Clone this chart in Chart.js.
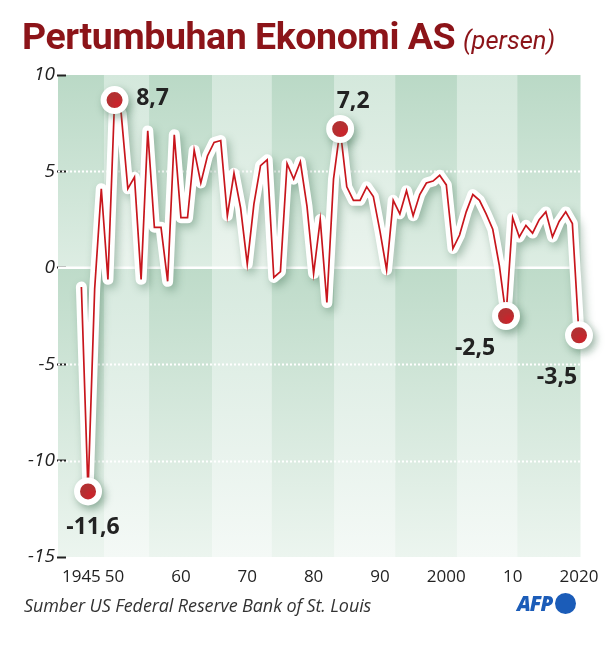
<!DOCTYPE html>
<html>
<head>
<meta charset="utf-8">
<script src="https://cdn.jsdelivr.net/npm/chart.js@4.4.1/dist/chart.umd.min.js"></script>
<style>
  html, body { margin: 0; padding: 0; background: #fff; }
  #wrap { position: relative; width: 607px; height: 656px; overflow: hidden; }
  #c { position: absolute; left: 0; top: 0; }
  #title { position: absolute; left: 22px; top: 18px; white-space: nowrap; color: #8c1419;
           font-family: Roboto, "Noto Sans", sans-serif; line-height: 1; }
  #title b { font-weight: 700; font-size: 37.5px; letter-spacing: -0.45px; }
  #title i { font-weight: 400; font-size: 25.5px; margin-left: 8px; }
  #source { position: absolute; left: 24px; top: 593px; font-family: "Open Sans", sans-serif;
            font-style: italic; font-size: 18px; color: #333; white-space: nowrap; letter-spacing: -0.1px; }
  #afp { position: absolute; left: 517px; top: 589px; height: 22px; white-space: nowrap; }
  #afp span { font-family: "Open Sans", sans-serif; font-weight: 800; font-style: italic; font-size: 20.5px;
              color: #1b5cb8; letter-spacing: -1px; vertical-align: middle; }
  #afp em { display: inline-block; width: 21px; height: 21px; border-radius: 50%; background: #1b5cb8;
            vertical-align: middle; margin-left: 3px; }
</style>
</head>
<body>
<div id="wrap">
  <canvas id="c" width="607" height="656"></canvas>
  <div id="title"><b>Pertumbuhan Ekonomi AS</b><i>(persen)</i></div>
  <div id="source">Sumber US Federal Reserve Bank of St. Louis</div>
  <div id="afp"><span>AFP</span><em></em></div>
</div>
<script>
// ---- data ----
const years = [1945,1946,1947,1948,1949,1950,1951,1952,1953,1954,1955,1956,1957,1958,1959,
  1960,1961,1962,1963,1964,1965,1966,1967,1968,1969,1970,1971,1972,1973,1974,1975,1976,1977,1978,1979,
  1980,1981,1982,1983,1984,1985,1986,1987,1988,1989,1990,1991,1992,1993,1994,1995,1996,1997,1998,1999,
  2000,2001,2002,2003,2004,2005,2006,2007,2008,2009,2010,2011,2012,2013,2014,2015,2016,2017,2018,2019,2020];
const growth = [-1.0,-11.6,-1.1,4.1,-0.6,8.7,8.0,4.1,4.7,-0.6,7.1,2.1,2.1,-0.7,6.9,
  2.6,2.6,6.1,4.4,5.8,6.5,6.6,2.7,4.9,3.1,0.2,3.3,5.3,5.6,-0.5,-0.2,5.4,4.6,5.5,3.2,
  -0.3,2.5,-1.8,4.6,7.2,4.2,3.5,3.5,4.2,3.7,1.9,-0.1,3.5,2.8,4.0,2.7,3.8,4.4,4.5,4.8,
  4.3,1.0,1.7,2.9,3.8,3.5,2.8,2.0,0.1,-2.5,2.6,1.6,2.2,1.8,2.5,2.9,1.6,2.4,2.9,2.3,-3.5];
const highlightYears = [1946, 1950, 1984, 2009, 2020];
const highlightValues = [-11.6, 8.7, 7.2, -2.5, -3.5];
const highlightLabels = ["-11,6", "8,7", "7,2", "-2,5", "-3,5"];
const xTickYears = [1945, 1950, 1960, 1970, 1980, 1990, 2000, 2010, 2020];
const xTickLabels = ["1945", "50", "60", "70", "80", "90", "2000", "10", "2020"];
const yTicks = [10, 5, 0, -5, -10, -15];

// ---- styling helpers (not data) ----
const labelOffsets = [[5, 36], [38, -2], [13, -28], [-31, 32], [-22, 42]];
const bandEdges = [1948.4, 1955.2, 1964.7, 1973.7, 1983.1, 1992.3, 2001.6, 2010.7];

const linePts = years.map((y, i) => ({ x: y, y: growth[i] }));
const hiPts = highlightYears.map((y, i) => ({ x: y, y: highlightValues[i] }));

const bandsPlugin = {
  id: 'bands',
  beforeDraw(chart) {
    const { ctx, chartArea: a, scales: { x, y } } = chart;
    const yTop = y.getPixelForValue(10), yZero = y.getPixelForValue(0), yBot = y.getPixelForValue(-15);
    const edges = [a.left - 8, ...bandEdges.map(v => x.getPixelForValue(v)), a.right];
    const dark = [[[186,217,198],[221,237,227]], [[190,219,201],[236,245,239]]];
    const light = [[[212,232,220],[235,244,238]], [[214,233,222],[244,249,246]]];
    const rgb = c => `rgb(${c[0]},${c[1]},${c[2]})`;
    ctx.save();
    for (let i = 0; i < edges.length - 1; i++) {
      const pal = i % 2 === 0 ? dark : light;
      const secs = [[yTop, yZero, pal[0]], [yZero, yBot, pal[1]]];
      secs.forEach(([t, b, cols]) => {
        const g = ctx.createLinearGradient(0, t, 0, b);
        g.addColorStop(0, rgb(cols[0]));
        g.addColorStop(1, rgb(cols[1]));
        ctx.fillStyle = g;
        ctx.fillRect(edges[i], t, edges[i + 1] - edges[i] + 0.5, b - t);
      });
    }
    ctx.restore();
  },
  beforeDatasetsDraw(chart) {
    const { ctx, chartArea: a, scales: { y } } = chart;
    const left = a.left - 8;
    ctx.save();
    ctx.strokeStyle = '#ffffff';
    [5, -5, -10].forEach(v => {
      const py = Math.round(y.getPixelForValue(v)) + 0.5;
      ctx.lineWidth = 2;
      ctx.setLineDash([2, 2]);
      ctx.beginPath(); ctx.moveTo(left, py); ctx.lineTo(a.right, py); ctx.stroke();
    });
    ctx.setLineDash([]);
    ctx.lineWidth = 2.5;
    const p0 = y.getPixelForValue(0);
    ctx.beginPath(); ctx.moveTo(left, p0); ctx.lineTo(a.right, p0); ctx.stroke();
    ctx.restore();
  },
  beforeDatasetDraw(chart, args) {
    const ds = chart.data.datasets[args.index];
    if (ds.shadow) {
      const ctx = chart.ctx;
      ctx.save();
      ctx.shadowColor = 'rgba(60,110,80,0.4)';
      ctx.shadowBlur = 8;
      ctx.shadowOffsetX = 3;
      ctx.shadowOffsetY = 4;
    }
  },
  afterDatasetDraw(chart, args) {
    const ds = chart.data.datasets[args.index];
    if (ds.shadow) chart.ctx.restore();
  },
  afterDatasetsDraw(chart) {
    const { ctx } = chart;
    const meta = chart.getDatasetMeta(0);
    ctx.save();
    ctx.font = 'bold 23px "Open Sans", sans-serif';
    ctx.fillStyle = '#222';
    ctx.textAlign = 'center';
    ctx.textBaseline = 'middle';
    meta.data.forEach((pt, i) => {
      const o = labelOffsets[i];
      if (!o) return;
      ctx.fillText(highlightLabels[i], pt.x + o[0], pt.y + o[1]);
    });
    ctx.restore();
  }
};

new Chart(document.getElementById('c'), {
  type: 'line',
  data: {
    datasets: [
      { data: hiPts, showLine: false, pointRadius: 11, pointHoverRadius: 11,
        pointBackgroundColor: '#d4202a', pointBorderColor: '#ffffff', pointBorderWidth: 6,
        order: 1, clip: false, shadow: true },
      { data: linePts, borderColor: '#c8161d', borderWidth: 1.7, pointRadius: 0,
        borderJoinStyle: 'miter', tension: 0, order: 2, clip: false },
      { data: linePts, borderColor: '#ffffff', borderWidth: 11, pointRadius: 0,
        borderJoinStyle: 'round', borderCapStyle: 'round', tension: 0, order: 3, clip: false, shadow: true }
    ]
  },
  options: {
    responsive: false,
    animation: false,
    events: [],
    layout: { padding: { top: 75, right: 27, bottom: 69, left: 0 } },
    plugins: { legend: { display: false }, tooltip: { enabled: false }, title: { display: false } },
    scales: {
      x: {
        type: 'linear', min: 1942.68, max: 2020.15,
        afterBuildTicks: s => { s.ticks = xTickYears.map(v => ({ value: v })); },
        afterFit: s => { s.height = 30; },
        grid: { display: false },
        border: { display: false },
        ticks: {
          autoSkip: false, maxRotation: 0, padding: 2, color: '#222',
          font: { family: '"Open Sans", sans-serif', size: 17 },
          callback: v => xTickLabels[xTickYears.indexOf(v)]
        }
      },
      y: {
        min: -15, max: 10,
        afterBuildTicks: s => { s.ticks = yTicks.map(v => ({ value: v })); },
        afterFit: s => { s.width = 66; },
        grid: { drawOnChartArea: false, drawTicks: true, tickLength: 9, tickColor: '#222', tickWidth: 2 },
        border: { display: false },
        ticks: {
          padding: 2, color: '#222',
          font: { family: '"Open Sans", sans-serif', size: 19, style: 'italic' },
          callback: v => String(v)
        }
      }
    }
  },
  plugins: [bandsPlugin]
});
</script>
</body>
</html>
